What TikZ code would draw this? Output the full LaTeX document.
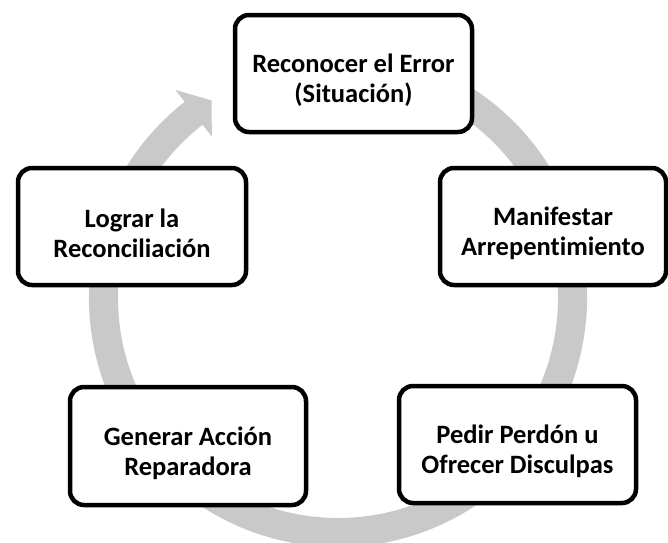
\documentclass[tikz,border=0pt]{standalone}
\usepackage{fontspec}
\setmainfont{Carlito}[Ligatures=NoCommon]
\definecolor{ringgray}{RGB}{201,201,201}
\begin{document}
\begin{tikzpicture}[x=1pt,y=1pt,
  stage/.style={draw=black, line width=4.5pt, fill=white, rounded corners=14pt,
    inner sep=0pt},
  stagetext/.style={align=center, inner sep=0pt, yshift=-7pt,
    font=\fontsize{26.5}{30}\selectfont\bfseries}]
\useasboundingbox (0,0) rectangle (668,-542);
\clip (0,0) rectangle (668,-542);
\fill[white] (0,0) rectangle (668,-542);
% circular arrow
\begin{scope}[shift={(338,-298)}]
\fill[ringgray] (80:249) arc[start angle=80, end angle=-232, radius=249]
  -- (-232:264) -- (-237.4:234.5) -- (-232:205) -- (-232:220)
  arc[start angle=-232, end angle=80, radius=220] -- cycle;
\end{scope}
% stages
\node[stage, minimum width=237, minimum height=117] (s1) at (353.5,-73.5) {};
\node[stage, minimum width=226, minimum height=117] (s2) at (553,-226.5) {};
\node[stage, minimum width=237, minimum height=117] (s3) at (517.5,-444.5) {};
\node[stage, minimum width=236, minimum height=118] (s4) at (188,-446) {};
\node[stage, minimum width=228, minimum height=117] (s5) at (132,-226.5) {};
\node[stagetext] (t1) at (s1.center) {Reconocer el Error\\(Situación)};
\node[stagetext] (t2) at (s2.center) {Manifestar\\Arrepentimiento};
\node[stagetext] (t3) at (s3.center) {Pedir Perdón u\\Ofrecer Disculpas};
\node[stagetext] (t4) at (s4.center) {Generar Acción\\Reparadora};
\node[stagetext] (t5) at (s5.center) {Lograr la\\Reconciliación};
\end{tikzpicture}
\end{document}
